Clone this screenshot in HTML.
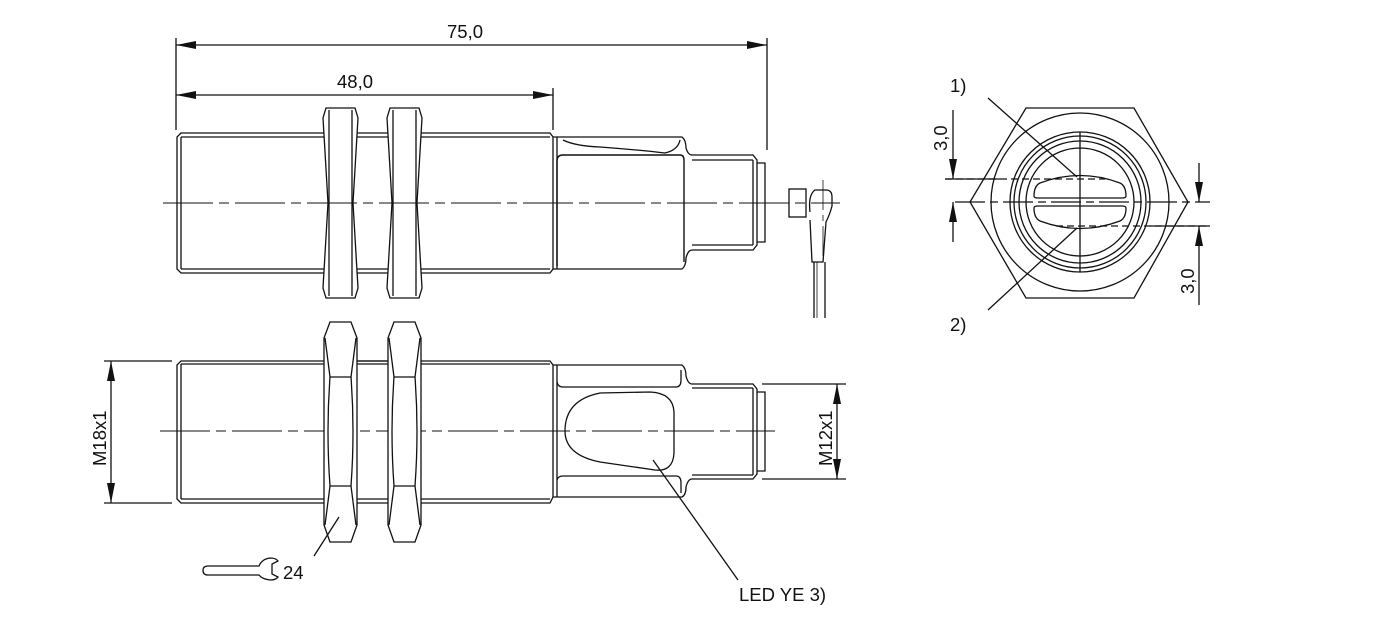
<!DOCTYPE html>
<html><head><meta charset="utf-8"><style>
html,body{margin:0;padding:0;background:#fff;width:1380px;height:631px;overflow:hidden}
svg{display:block}
text{font-family:"Liberation Sans",sans-serif;font-size:18.5px;fill:#111}
</style></head><body>
<svg width="1380" height="631" viewBox="0 0 1380 631" xmlns="http://www.w3.org/2000/svg">
<defs>
<marker id="a" viewBox="0 0 20 8" refX="20" refY="4" markerWidth="20" markerHeight="8" orient="auto-start-reverse" markerUnits="userSpaceOnUse"><path d="M0,0 L20,4 L0,8 z" fill="#111"/></marker>
</defs>
<g stroke="#111" stroke-width="1.3" fill="none">
<line x1="176" y1="38" x2="176" y2="130"/>
<line x1="767" y1="38" x2="767" y2="150"/>
<line x1="553" y1="88" x2="553" y2="130"/>
<line x1="176" y1="45" x2="767" y2="45" marker-start="url(#a)" marker-end="url(#a)"/>
<line x1="176" y1="95" x2="553" y2="95" marker-start="url(#a)" marker-end="url(#a)"/>

<path d="M181,133 H550 L553,137 V269 L550,273 H181 L177,269 V137 Z"/>
<line x1="181" y1="137" x2="550" y2="137"/>
<line x1="181" y1="269" x2="550" y2="269"/>
<line x1="181" y1="137" x2="181" y2="269"/>
<g fill="#fff">
<path d="M326,108 H355 L358,118 L353,203 L358,288 L355,298 H326 L323,288 L328,203 L323,118 Z"/>
<path d="M390,108 H419 L422,118 L417,203 L422,288 L419,298 H390 L387,288 L392,203 L387,118 Z"/>
</g>
<line x1="329" y1="110" x2="329" y2="296"/><line x1="352" y1="110" x2="352" y2="296"/>
<line x1="393" y1="110" x2="393" y2="296"/><line x1="416" y1="110" x2="416" y2="296"/>
<path d="M553,137 H682 Q686,140 686,148 Q688,155 692,155 H753 L757,160 V245 L753,250 H692 Q688,250 686,258 Q686,266 682,269 H553"/>
<path d="M557,266 V161 Q557,155 563,155 H680 Q684,155 684,160 V262" stroke-width="1.4"/>
<line x1="557" y1="137" x2="557" y2="269"/>
<path d="M563,140 Q575,146 600,147 Q640,150 665,153 Q678,150 680,140"/>
<line x1="692" y1="160" x2="753" y2="160"/><line x1="692" y1="245" x2="753" y2="245"/>
<line x1="753" y1="160" x2="753" y2="245"/>
<path d="M757,163 H765 V242 H757"/>
<rect x="789" y="189" width="17" height="28"/>
<path d="M810,212 Q808,195 815,190 H826 Q832,190 832,197 V206 Q830,214 826,222 L823,262 H812 L810,220"/>
<line x1="814" y1="262" x2="814" y2="318"/><line x1="825" y1="262" x2="825" y2="318"/>
<line x1="817" y1="262" x2="817" y2="318" stroke-width="0.8"/>

<g stroke-dasharray="50,6,10,6" stroke-width="1">
<line x1="163" y1="203" x2="840" y2="203"/>
<line x1="160" y1="431" x2="775" y2="431"/>
</g>
<line x1="823" y1="180" x2="823" y2="260" stroke-dasharray="30,5,6,5" stroke-width="0.8"/>

<path d="M181,361 H550 L553,365 V497 L550,503 H181 L177,499 V365 Z"/>
<line x1="181" y1="364" x2="550" y2="364"/>
<line x1="181" y1="499" x2="550" y2="499"/>
<line x1="181" y1="364" x2="181" y2="499"/>
<g fill="#fff">
<path d="M330,322 H351 L357,338 V525 L351,542 H330 L324,525 V338 Z"/>
<path d="M394,322 H415 L421,338 V525 L415,542 H394 L388,525 V338 Z"/>
</g>
<path d="M325,338 L330,377 H351 L356,338"/><path d="M325,525 L330,486 H351 L356,525"/>
<path d="M330,377 Q326,431 330,486"/><path d="M351,377 Q355,431 351,486"/>
<path d="M389,338 L394,377 H415 L420,338"/><path d="M389,525 L394,486 H415 L420,525"/>
<path d="M394,377 Q390,431 394,486"/><path d="M415,377 Q419,431 415,486"/>
<line x1="357" y1="361" x2="388" y2="361"/>
<path d="M553,365 H682 Q686,368 686,376 Q688,384 692,384 H753 L757,389 V474 L753,479 H692 Q688,479 686,487 Q686,495 682,497 H553"/>
<line x1="557" y1="365" x2="557" y2="497"/>
<path d="M557,382 Q558,387 563,387 H676 Q681,387 681,380 V370"/>
<path d="M557,480 Q558,476 563,476 H676 Q681,476 681,483 V493"/>
<path d="M565,431 Q565,400 600,393 L650,392 Q673,393 674,412 V453 Q673,472 655,470 L600,462 Q565,455 565,431 Z"/>
<line x1="692" y1="388" x2="753" y2="388"/><line x1="692" y1="475" x2="753" y2="475"/>
<line x1="753" y1="388" x2="753" y2="475"/>
<path d="M757,392 H765 V471 H757"/>
<line x1="762" y1="384" x2="846" y2="384"/><line x1="762" y1="479" x2="846" y2="479"/>
<line x1="837" y1="384" x2="837" y2="479" marker-start="url(#a)" marker-end="url(#a)"/>
<line x1="104" y1="361" x2="172" y2="361"/><line x1="104" y1="503" x2="172" y2="503"/>
<line x1="111" y1="361" x2="111" y2="503" marker-start="url(#a)" marker-end="url(#a)"/>
<line x1="314" y1="556" x2="339" y2="517"/>
<line x1="653" y1="460" x2="738" y2="580"/>
<path d="M208,566 H259 Q262,559 270,558 Q276,558 278,561 L272,564 V574 L278,577 Q276,580 270,580 Q262,579 259,575 H208 Q203,575 203,570.5 Q203,566 208,566 Z"/>

<path d="M1026,108 H1134 L1188,202 L1134,298 H1026 L970,202 Z"/>
<circle cx="1080" cy="202" r="89"/>
<circle cx="1080" cy="202" r="70"/>
<circle cx="1080" cy="202" r="66"/>
<circle cx="1080" cy="202" r="61"/>
<circle cx="1080" cy="202" r="54"/>
<path d="M1034,196 Q1034,186 1040,183 Q1080,168 1120,183 Q1126,186 1126,196 Q1126,198 1122,198 H1038 Q1034,198 1034,196 Z"/>
<path d="M1034,208 Q1034,218 1040,221 Q1080,236 1120,221 Q1126,218 1126,208 Q1126,206 1122,206 H1038 Q1034,206 1034,208 Z"/>
<line x1="1080" y1="132" x2="1080" y2="272"/>
<line x1="955" y1="202" x2="1210" y2="202" stroke-dasharray="30,5,8,5"/>
<line x1="945" y1="179" x2="1105" y2="179" stroke-dasharray="7,4"/>
<line x1="1056" y1="226" x2="1210" y2="226" stroke-dasharray="7,4"/>
<line x1="945" y1="179" x2="1000" y2="179"/>
<line x1="1150" y1="226" x2="1210" y2="226"/>
<line x1="988" y1="98" x2="1077" y2="177"/>
<line x1="988" y1="310" x2="1077" y2="228"/>
<line x1="953" y1="110" x2="953" y2="179" marker-end="url(#a)"/>
<line x1="953" y1="242" x2="953" y2="202" marker-end="url(#a)"/>
<line x1="1199" y1="163" x2="1199" y2="202" marker-end="url(#a)"/>
<line x1="1199" y1="305" x2="1199" y2="226" marker-end="url(#a)"/>
</g>
<text x="447" y="38">75,0</text>
<text x="337" y="88">48,0</text>
<text x="283" y="579">24</text>
<text x="739" y="601">LED YE 3)</text>
<text x="950" y="92">1)</text>
<text x="950" y="331">2)</text>
<text transform="translate(106,466) rotate(-90)">M18x1</text>
<text transform="translate(832,466) rotate(-90)">M12x1</text>
<text transform="translate(947,151) rotate(-90)">3,0</text>
<text transform="translate(1194,294) rotate(-90)">3,0</text>
</svg>
</body></html>
